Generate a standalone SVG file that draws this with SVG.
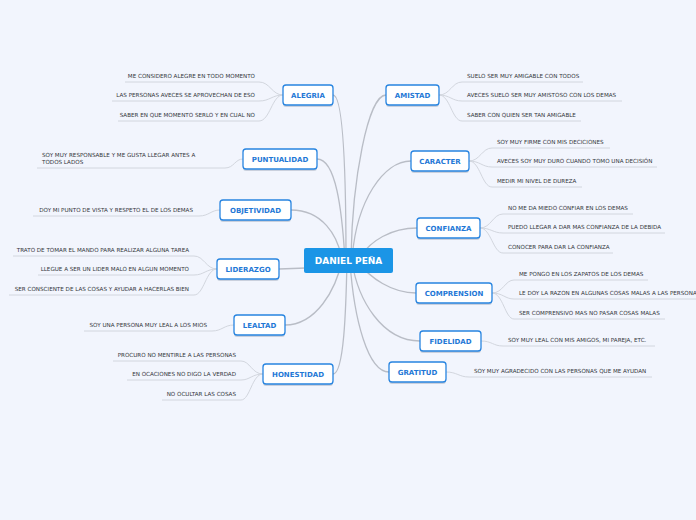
<svg xmlns="http://www.w3.org/2000/svg" width="696" height="520" viewBox="0 0 696 520">
<style>
.bg{fill:#f2f5fd}
.main{fill:none;stroke:#b9bdc6;stroke-width:1.3}
.leafl{fill:none;stroke:#d2d6de;stroke-width:1}
.box{fill:#ffffff;stroke:#2784e0;stroke-width:1.3}
.sh{fill:#9aa3b5;opacity:0.45}
.lbl{font-family:"DejaVu Sans",Verdana,sans-serif;font-weight:bold;font-size:7px;fill:#1f78d6;text-anchor:middle}
.leaf{font-family:"DejaVu Sans",Verdana,sans-serif;font-size:5.6px;fill:#33353b}
.l{text-anchor:end}
.ctr{fill:#1b95e6}
.ctrt{font-family:"DejaVu Sans",Verdana,sans-serif;font-weight:bold;font-size:9px;fill:#ffffff;text-anchor:middle}
</style>
<rect class="bg" x="0" y="0" width="696" height="520"/>
<g id="connectors">
<path class="main" d="M333 95 C344 95 346 180 346 260"/>
<path class="main" d="M317 159 C336 159 342 210 345 260"/>
<path class="main" d="M291 210 C322 210 338 235 342 260"/>
<path class="main" d="M279 269 L306 268"/>
<path class="main" d="M285 325 C316 325 336 290 342 260"/>
<path class="main" d="M333 374 C344 374 346 310 347 260"/>
<path class="main" d="M386 95 C368 95 352 180 351 260"/>
<path class="main" d="M411 161 C384 161 356 200 352 260"/>
<path class="main" d="M417 228 C392 228 370 240 358 260"/>
<path class="main" d="M416 293 C392 293 370 278 358 262"/>
<path class="main" d="M420 341 C382 341 358 300 352 262"/>
<path class="main" d="M389 372 C368 372 354 320 350 262"/>
<path class="leafl" d="M283 95 C272 95 270 82 259 82 L125 82"/>
<path class="leafl" d="M283 95 C272 95 270 101 259 101 L112 101"/>
<path class="leafl" d="M283 95 C272 95 270 121 259 121 L118 121"/>
<path class="leafl" d="M243 159 C235 159 234 168 225 168 L37 168"/>
<path class="leafl" d="M220 210 C211 210 209 216 199 216 L33 216"/>
<path class="leafl" d="M217 269 C206 269 204 256 194 256 L13 256"/>
<path class="leafl" d="M217 269 C206 269 204 275 194 275 L38 275"/>
<path class="leafl" d="M217 269 C206 269 204 295 194 295 L9 295"/>
<path class="leafl" d="M234 325 C224 325 222 331 212 331 L84 331"/>
<path class="leafl" d="M263 374 C252 374 250 361 241 361 L113 361"/>
<path class="leafl" d="M263 374 C252 374 250 380 241 380 L127 380"/>
<path class="leafl" d="M263 374 C252 374 250 400 241 400 L162 400"/>
<path class="leafl" d="M439 95 C450 95 452 82 462 82 L583 82"/>
<path class="leafl" d="M439 95 C450 95 452 101 462 101 L622 101"/>
<path class="leafl" d="M439 95 C450 95 452 121 462 121 L581 121"/>
<path class="leafl" d="M469 161 C480 161 482 148 492 148 L610 148"/>
<path class="leafl" d="M469 161 C480 161 482 167 492 167 L657 167"/>
<path class="leafl" d="M469 161 C480 161 482 187 492 187 L582 187"/>
<path class="leafl" d="M480 228 C491 228 493 214 503 214 L633 214"/>
<path class="leafl" d="M480 228 C491 228 493 233 503 233 L665 233"/>
<path class="leafl" d="M480 228 C491 228 493 253 503 253 L613 253"/>
<path class="leafl" d="M492 293 C503 293 505 280 514 280 L648 280"/>
<path class="leafl" d="M492 293 C503 293 505 299 514 299 L700 299"/>
<path class="leafl" d="M492 293 C503 293 505 319 514 319 L665 319"/>
<path class="leafl" d="M481 341 C492 341 493 346 503 346 L655 346"/>
<path class="leafl" d="M446 372 C457 372 459 377 469 377 L652 377"/>
</g>
<g id="center">
<rect class="ctr" x="304" y="248" width="89" height="25" rx="2"/>
<text class="ctrt" x="348.5" y="264">DANIEL PEÑA</text>
</g>
<g id="alegria">
<rect class="sh" x="283" y="87" width="50" height="20" rx="3"/>
<rect class="box" x="283" y="85" width="50" height="20" rx="3"/>
<text class="lbl" x="308" y="97.5">ALEGRIA</text>
<text class="leaf l" x="255" y="78">ME CONSIDERO ALEGRE EN TODO MOMENTO</text>
<text class="leaf l" x="255" y="97">LAS PERSONAS AVECES SE APROVECHAN DE ESO</text>
<text class="leaf l" x="255" y="117">SABER EN QUE MOMENTO SERLO Y EN CUAL NO</text>
</g>
<g id="puntualidad">
<rect class="sh" x="243" y="151" width="74" height="20" rx="3"/>
<rect class="box" x="243" y="149" width="74" height="20" rx="3"/>
<text class="lbl" x="280" y="161.5">PUNTUALIDAD</text>
<text class="leaf" x="42" y="157">SOY MUY RESPONSABLE Y ME GUSTA LLEGAR ANTES A</text>
<text class="leaf" x="42" y="164">TODOS LADOS</text>
</g>
<g id="objetividad">
<rect class="sh" x="220" y="202" width="71" height="20" rx="3"/>
<rect class="box" x="220" y="200" width="71" height="20" rx="3"/>
<text class="lbl" x="255.5" y="212.5">OBJETIVIDAD</text>
<text class="leaf l" x="193" y="212">DOY MI PUNTO DE VISTA Y RESPETO EL DE LOS DEMAS</text>
</g>
<g id="liderazgo">
<rect class="sh" x="217" y="261" width="62" height="20" rx="3"/>
<rect class="box" x="217" y="259" width="62" height="20" rx="3"/>
<text class="lbl" x="248" y="271.5">LIDERAZGO</text>
<text class="leaf l" x="189" y="252">TRATO DE TOMAR EL MANDO PARA REALIZAR ALGUNA TAREA</text>
<text class="leaf l" x="189" y="271">LLEGUE A SER UN LIDER MALO EN ALGUN MOMENTO</text>
<text class="leaf l" x="189" y="291">SER CONSCIENTE DE LAS COSAS Y AYUDAR A HACERLAS BIEN</text>
</g>
<g id="lealtad">
<rect class="sh" x="234" y="317" width="51" height="20" rx="3"/>
<rect class="box" x="234" y="315" width="51" height="20" rx="3"/>
<text class="lbl" x="259.5" y="327.5">LEALTAD</text>
<text class="leaf l" x="207" y="327">SOY UNA PERSONA MUY LEAL A LOS MIOS</text>
</g>
<g id="honestidad">
<rect class="sh" x="263" y="366" width="70" height="20" rx="3"/>
<rect class="box" x="263" y="364" width="70" height="20" rx="3"/>
<text class="lbl" x="298" y="376.5">HONESTIDAD</text>
<text class="leaf l" x="236" y="357">PROCURO NO MENTIRLE A LAS PERSONAS</text>
<text class="leaf l" x="236" y="376">EN OCACIONES NO DIGO LA VERDAD</text>
<text class="leaf l" x="236" y="396">NO OCULTAR LAS COSAS</text>
</g>
<g id="amistad">
<rect class="sh" x="386" y="87" width="53" height="20" rx="3"/>
<rect class="box" x="386" y="85" width="53" height="20" rx="3"/>
<text class="lbl" x="412.5" y="97.5">AMISTAD</text>
<text class="leaf" x="467" y="78">SUELO SER MUY AMIGABLE CON TODOS</text>
<text class="leaf" x="467" y="97">AVECES SUELO SER MUY AMISTOSO CON LOS DEMAS</text>
<text class="leaf" x="467" y="117">SABER CON QUIEN SER TAN AMIGABLE</text>
</g>
<g id="caracter">
<rect class="sh" x="411" y="153" width="58" height="20" rx="3"/>
<rect class="box" x="411" y="151" width="58" height="20" rx="3"/>
<text class="lbl" x="440" y="163.5">CARACTER</text>
<text class="leaf" x="497" y="144">SOY MUY FIRME CON MIS DECICIONES</text>
<text class="leaf" x="497" y="163">AVECES SOY MUY DURO CUANDO TOMO UNA DECISIÓN</text>
<text class="leaf" x="497" y="183">MEDIR MI NIVEL DE DUREZA</text>
</g>
<g id="confianza">
<rect class="sh" x="417" y="220" width="63" height="20" rx="3"/>
<rect class="box" x="417" y="218" width="63" height="20" rx="3"/>
<text class="lbl" x="448.5" y="230.5">CONFIANZA</text>
<text class="leaf" x="508" y="210">NO ME DA MIEDO CONFIAR EN LOS DEMAS</text>
<text class="leaf" x="508" y="229">PUEDO LLEGAR A DAR MAS CONFIANZA DE LA DEBIDA</text>
<text class="leaf" x="508" y="249">CONOCER PARA DAR LA CONFIANZA</text>
</g>
<g id="comprension">
<rect class="sh" x="416" y="285" width="76" height="20" rx="3"/>
<rect class="box" x="416" y="283" width="76" height="20" rx="3"/>
<text class="lbl" x="454" y="295.5">COMPRENSION</text>
<text class="leaf" x="519" y="276">ME PONGO EN LOS ZAPATOS DE LOS DEMAS</text>
<text class="leaf" x="519" y="295">LE DOY LA RAZON EN ALGUNAS COSAS MALAS A LAS PERSONAS</text>
<text class="leaf" x="519" y="315">SER COMPRENSIVO MAS NO PASAR COSAS MALAS</text>
</g>
<g id="fidelidad">
<rect class="sh" x="420" y="333" width="61" height="20" rx="3"/>
<rect class="box" x="420" y="331" width="61" height="20" rx="3"/>
<text class="lbl" x="450.5" y="343.5">FIDELIDAD</text>
<text class="leaf" x="508" y="342">SOY MUY LEAL CON MIS AMIGOS, MI PAREJA, ETC.</text>
</g>
<g id="gratitud">
<rect class="sh" x="389" y="364" width="57" height="20" rx="3"/>
<rect class="box" x="389" y="362" width="57" height="20" rx="3"/>
<text class="lbl" x="417.5" y="374.5">GRATITUD</text>
<text class="leaf" x="474" y="373">SOY MUY AGRADECIDO CON LAS PERSONAS QUE ME AYUDAN</text>
</g>
</svg>
